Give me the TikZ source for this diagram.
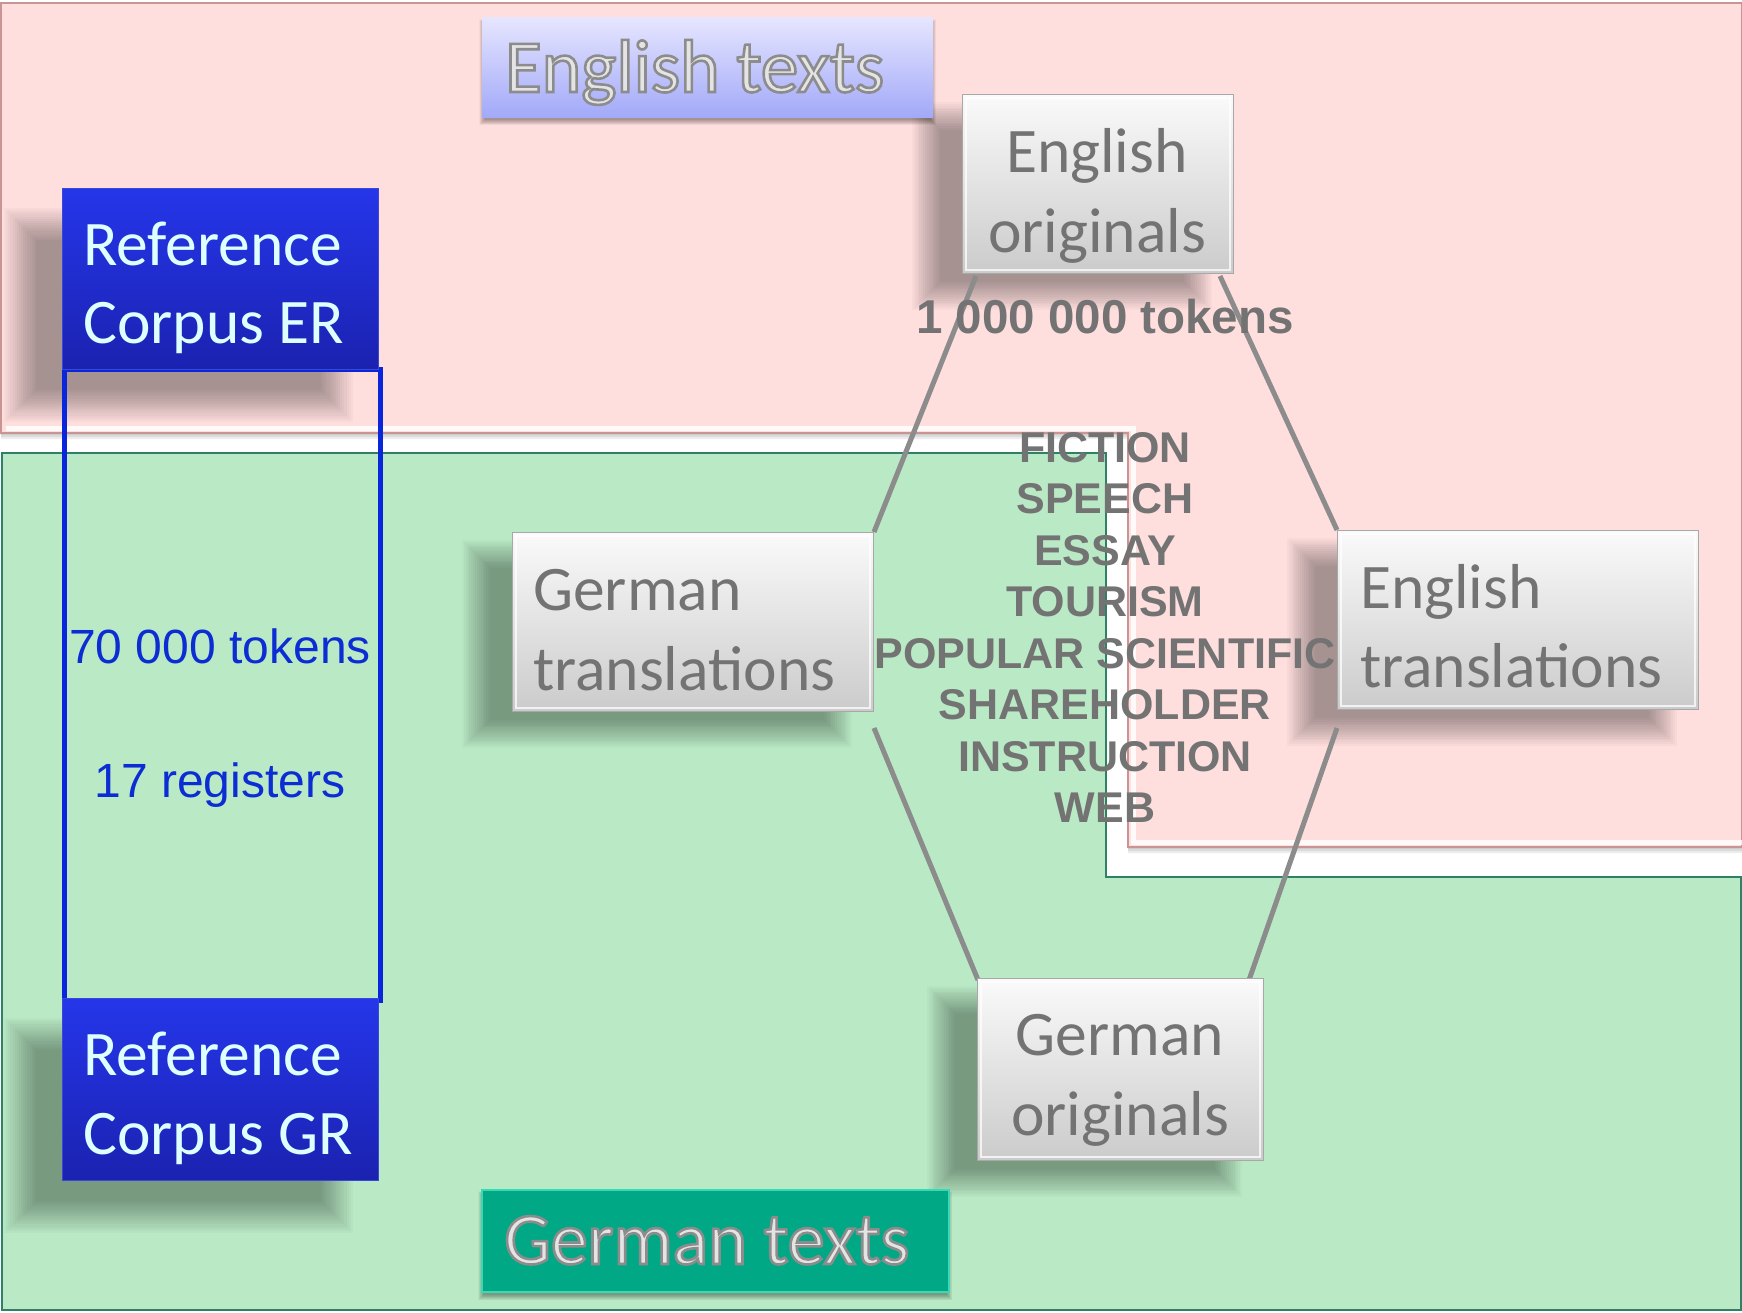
\documentclass[tikz,border=0pt]{standalone}
\usepackage{fontspec}
\usetikzlibrary{calc}
\newfontfamily\calfont{Carlito}
\newfontfamily\arfont{Liberation Sans}

\definecolor{pinkbg}{HTML}{FFDEDE}
\definecolor{pinkedge}{HTML}{C99494}
\definecolor{greenbg}{HTML}{BAEAC5}
\definecolor{greenedge}{HTML}{2E8067}
\definecolor{boxtop}{HTML}{FAFAFA}
\definecolor{boxbot}{HTML}{CBCBCB}
\definecolor{boxedge}{HTML}{A8A8A8}
\definecolor{bluetop}{HTML}{2536EA}
\definecolor{bluebot}{HTML}{1B22B0}
\definecolor{bboxedge}{HTML}{3A48D8}
\definecolor{bluetext}{HTML}{DDFFFF}
\definecolor{spanblue}{HTML}{0A26DA}
\definecolor{tokblue}{HTML}{0C2CD4}
\definecolor{wgray}{HTML}{737373}
\definecolor{linkgray}{HTML}{8C8C8C}
\definecolor{lavtop}{HTML}{E6E6FF}
\definecolor{lavbot}{HTML}{A2A9F8}
\definecolor{teal}{HTML}{00A886}
\definecolor{tealedge}{HTML}{3AD8B6}
\definecolor{halofill}{HTML}{E4E4E4}

\pgfdeclarelayer{bg}
\pgfdeclarelayer{shade}
\pgfdeclarelayer{links}
\pgfsetlayers{bg,shade,links,main}

% soft drop shadow: node, x offset, y offset, half spread
\newcommand\softshadow[4]{%
  \begin{pgfonlayer}{shade}
  \foreach \k in {0,...,15} {%
    \pgfmathsetmacro\ins{(\k-7.5)*#4/8}%
    \fill[black, opacity=0.023]
      ($(#1.north west)+(#2+\ins,#3+\ins)$) rectangle ($(#1.south east)+(#2-\ins,#3-\ins)$);
  }%
  \end{pgfonlayer}}

% lettering with a grey stroked outline
\newcommand\outlined[1]{%
  \special{pdf:code q 2 Tr 0.55 0.55 0.55 RG 2.6 w}#1\special{pdf:code Q}}

\tikzset{
  wbox/.style={rectangle, anchor=north west, inner sep=0pt, draw=boxedge,
    line width=1pt, top color=boxtop, bottom color=boxbot},
  bbox/.style={rectangle, anchor=north west, inner sep=0pt, draw=bboxedge,
    line width=1pt, top color=bluetop, bottom color=bluebot},
  bevel/.style={draw=white, line width=2pt, opacity=0.75},
  wtext/.style={font=\calfont\fontsize{63.5}{80}\selectfont, text=wgray, inner sep=0pt},
  btext/.style={font=\calfont\fontsize{63.5}{80}\selectfont, text=bluetext, inner sep=0pt, anchor=base west},
  titletext/.style={inner sep=0pt, anchor=base west, text=halofill},
  genre/.style={font=\arfont\bfseries\fontsize{43}{50}\selectfont, text=wgray, inner sep=0pt, anchor=base},
  count/.style={font=\arfont\fontsize{48}{56}\selectfont, text=tokblue, inner sep=0pt, anchor=base},
  link/.style={draw=linkgray, line width=5pt},
}

\begin{document}
\begin{tikzpicture}[x=1pt,y=-1pt]
\useasboundingbox (0,0) rectangle (1742,1312);

\begin{pgfonlayer}{bg}
\fill[white] (0,0) rectangle (1742,1312);
% German region (L-shaped)
\path[fill=greenbg, draw=greenedge, line width=2pt]
  (2,453) -- (1106,453) -- (1106,877) -- (1741,877) -- (1741,1310) -- (2,1310) -- cycle;
% English region (L-shaped) with a faint shadow below
\foreach \s in {2,4,6}
  \fill[black, opacity=0.07]
    (1,3+\s) -- (1742,3+\s) -- (1742,847+\s) -- (1128,847+\s) -- (1128,433+\s) -- (1,433+\s) -- cycle;
\path[fill=pinkbg, draw=pinkedge, line width=1.5pt]
  (1,3) -- (1742,3) -- (1742,847) -- (1128,847) -- (1128,433) -- (1,433) -- cycle;
\draw[white, line width=5pt, opacity=0.85] (6,428) -- (1133,428) -- (1133,842) -- (1742,842);
\end{pgfonlayer}

% span of the two reference corpora
\node[draw=spanblue, line width=5pt, minimum width=316pt, minimum height=631pt,
      anchor=north west, inner sep=0pt] (span) at (62,367) {};
\node[count] (c1) at (220,663) {70 000 tokens};
\node[count] (c2) at (220,797) {17 registers};

% the four corpora
\node[wbox, minimum width=271pt, minimum height=179pt] (eo) at (962,94) {};
\node[wbox, minimum width=361pt, minimum height=179pt] (gt) at (512,532) {};
\node[wbox, minimum width=361pt, minimum height=179pt] (et) at (1337,530) {};
\node[wbox, minimum width=286pt, minimum height=182pt] (go) at (977,978) {};
\foreach \b in {eo,gt,et,go} {
  \softshadow{\b}{-36}{22}{15}
  \draw[bevel] ($(\b.north west)+(4,4)$) rectangle ($(\b.south east)+(-4,-4)$);
}

\begin{pgfonlayer}{links}
\draw[link] ($(eo.south west)+(14,2)$) -- (gt.north east);
\draw[link] ($(eo.south east)+(-14,2)$) -- (et.north west);
\draw[link] ($(gt.south east)+(0,16)$) -- ($(go.north west)+(1,2)$);
\draw[link] ($(et.south west)+(0,18)$) -- ($(go.north east)+(-15,2)$);
\end{pgfonlayer}

\node[wtext, anchor=base] (eo1) at (1097,172) {English};
\node[wtext, anchor=base] (eo2) at (1097,252) {originals};
\node[wtext, anchor=base west] (gt1) at (533,610) {German};
\node[wtext, anchor=base west] (gt2) at (533,690) {translations};
\node[wtext, anchor=base west] (et1) at (1360,608) {English};
\node[wtext, anchor=base west] (et2) at (1360,687) {translations};
\node[wtext, anchor=base] (go1) at (1120,1055) {German};
\node[wtext, anchor=base] (go2) at (1120,1135) {originals};

% reference corpora
\node[bbox, minimum width=316pt, minimum height=181pt] (er) at (62,188) {};
\node[btext] (er1) at (83,265) {Reference};
\node[btext] (er2) at (83,343) {Corpus ER};
\node[bbox, minimum width=316pt, minimum height=182pt] (gr) at (62,998) {};
\node[btext] (gr1) at (83,1075) {Reference};
\node[btext] (gr2) at (83,1154) {Corpus GR};
\softshadow{er}{-42}{36}{17}
\softshadow{gr}{-42}{36}{17}

% size of the parallel corpus and its registers
\node[genre, font=\arfont\bfseries\fontsize{47.5}{55}\selectfont] (tok) at (1105,333) {1 000 000 tokens};
\foreach \g [count=\i from 0] in {FICTION,SPEECH,ESSAY,TOURISM,POPULAR SCIENTIFIC,SHAREHOLDER,INSTRUCTION,WEB}
  \node[genre] (reg\i) at (1105,462+51.5*\i) {\g};

% language labels
\node[rectangle, anchor=north west, minimum width=451pt, minimum height=100pt, inner sep=0pt,
      top color=lavtop, bottom color=lavbot] (enbox) at (482,17) {};
\softshadow{enbox}{0}{5}{3}
\node[titletext, font=\calfont\fontsize{75}{80}\selectfont] (entitle) at (505,92) {\outlined{English texts}};

\node[rectangle, anchor=north west, minimum width=467pt, minimum height=102pt, inner sep=0pt,
      fill=teal, draw=tealedge, line width=1.5pt] (debox) at (481,1189) {};
\softshadow{debox}{0}{5}{3}
\node[titletext, font=\calfont\fontsize{74}{80}\selectfont] (detitle) at (504,1264) {\outlined{German texts}};
\end{tikzpicture}
\end{document}
